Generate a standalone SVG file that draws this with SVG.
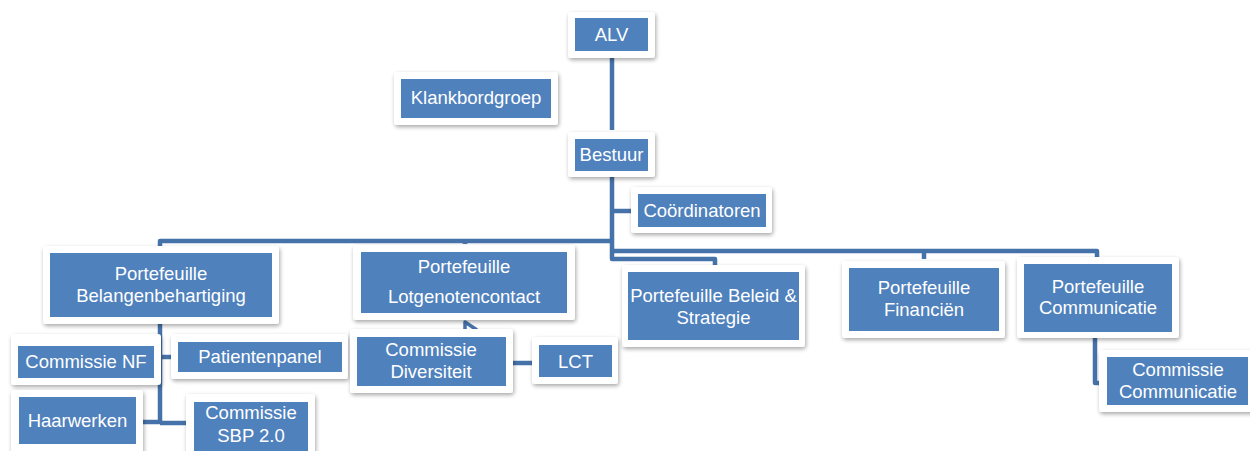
<svg xmlns="http://www.w3.org/2000/svg" width="1250" height="451" viewBox="0 0 1250 451">
<defs>
<filter id="sh" x="-10%" y="-10%" width="125%" height="130%">
<feGaussianBlur in="SourceAlpha" stdDeviation="2"/>
<feOffset dx="1" dy="2" result="b"/>
<feComponentTransfer><feFuncA type="linear" slope="0.35"/></feComponentTransfer>
<feMerge><feMergeNode/><feMergeNode in="SourceGraphic"/></feMerge>
</filter>
<style>
.o{fill:#fff;filter:url(#sh)}
.i{fill:#4F81BD}
.t{font-family:"Liberation Sans",Arial,sans-serif;font-size:18.5px;fill:#fff;text-anchor:middle}
.c{fill:none;stroke:#4672AA;stroke-width:4.5;stroke-linejoin:round}
</style>
</defs>
<rect width="1250" height="451" fill="#fff"/>
<g id="connectors">
<path class="c" d="M612,58 V130"/>
<path class="c" d="M612,177 V259 H715 V265"/>
<path class="c" d="M612,211 H631"/>
<path class="c" d="M612,241 H160 V247"/>
<path class="c" d="M465,241 V244"/>
<path class="c" d="M612,251 H1097 V257"/>
<path class="c" d="M924,251 V259"/>
<path class="c" d="M1095,338 V383 H1100"/>
<path class="c" d="M160,324 V423"/>
<path class="c" d="M160,357 H171"/>
<path class="c" d="M143,422 H160"/>
<path class="c" d="M160,423 H186"/>
<path class="c" d="M513,363 H532"/>
<path class="c" d="M465,330 V322 L477,330" style="stroke-width:3.5"/>
</g>
<g id="alv"><rect class="o" x="568" y="12" width="87" height="46" rx="3"/><rect class="i" x="575" y="18" width="73" height="33"/><text class="t" x="611.5" y="41">ALV</text></g>
<g id="klankbordgroep"><rect class="o" x="394" y="72" width="164" height="53" rx="3"/><rect class="i" x="401" y="79" width="150" height="39"/><text class="t" x="476" y="104">Klankbordgroep</text></g>
<g id="bestuur"><rect class="o" x="568" y="132" width="87" height="45" rx="3"/><rect class="i" x="575" y="139" width="73" height="32"/><text class="t" x="611.5" y="161">Bestuur</text></g>
<g id="coordinatoren"><rect class="o" x="631" y="187" width="141" height="46" rx="3"/><rect class="i" x="638" y="194" width="128" height="33"/><text class="t" x="702" y="217">Coördinatoren</text></g>
<g id="belangenbehartiging"><rect class="o" x="43" y="246" width="236" height="78" rx="3"/><rect class="i" x="50" y="253" width="222" height="64"/><text class="t" x="161" y="280">Portefeuille</text><text class="t" x="161" y="302">Belangenbehartiging</text></g>
<g id="lotgenotencontact"><rect class="o" x="353" y="245" width="222" height="75" rx="3"/><rect class="i" x="361" y="252" width="206" height="61"/><text class="t" x="464" y="273">Portefeuille</text><text class="t" x="464" y="303">Lotgenotencontact</text></g>
<g id="beleid"><rect class="o" x="622" y="265" width="183" height="82" rx="3"/><rect class="i" x="628" y="272" width="171" height="68"/><text class="t" x="713.5" y="302">Portefeuille Beleid &amp;</text><text class="t" x="713.5" y="324">Strategie</text></g>
<g id="financien"><rect class="o" x="842" y="261" width="163" height="77" rx="3"/><rect class="i" x="849" y="268" width="150" height="63"/><text class="t" x="924" y="294">Portefeuille</text><text class="t" x="924" y="316">Financiën</text></g>
<g id="communicatie"><rect class="o" x="1017" y="257" width="162" height="81" rx="3"/><rect class="i" x="1024" y="264" width="148" height="68"/><text class="t" x="1098" y="293">Portefeuille</text><text class="t" x="1098" y="314">Communicatie</text></g>
<g id="commissie-communicatie"><rect class="o" x="1099" y="350" width="156" height="62" rx="3"/><rect class="i" x="1107" y="357" width="141" height="48"/><text class="t" x="1178" y="376">Commissie</text><text class="t" x="1178" y="398">Communicatie</text></g>
<g id="commissie-nf"><rect class="o" x="11" y="334" width="150" height="51" rx="3"/><rect class="i" x="18" y="346" width="136" height="32"/><text class="t" x="86" y="368">Commissie NF</text></g>
<g id="patientenpanel"><rect class="o" x="171" y="334" width="177" height="45" rx="3"/><rect class="i" x="178" y="342" width="164" height="30"/><text class="t" x="260" y="363">Patientenpanel</text></g>
<g id="diversiteit"><rect class="o" x="350" y="329" width="163" height="64" rx="3"/><rect class="i" x="357" y="337" width="149" height="49"/><text class="t" x="431" y="356">Commissie</text><text class="t" x="431" y="378">Diversiteit</text></g>
<g id="lct"><rect class="o" x="532" y="337" width="86" height="47" rx="3"/><rect class="i" x="539" y="345" width="73" height="32"/><text class="t" x="575.5" y="368">LCT</text></g>
<g id="haarwerken"><rect class="o" x="11" y="390" width="132" height="65" rx="3"/><rect class="i" x="19" y="397" width="117" height="47"/><text class="t" x="77.5" y="427">Haarwerken</text></g>
<g id="sbp"><rect class="o" x="186" y="394" width="129" height="65" rx="3"/><rect class="i" x="194" y="402" width="114" height="55"/><text class="t" x="251" y="419">Commissie</text><text class="t" x="251" y="442">SBP 2.0</text></g>
</svg>
